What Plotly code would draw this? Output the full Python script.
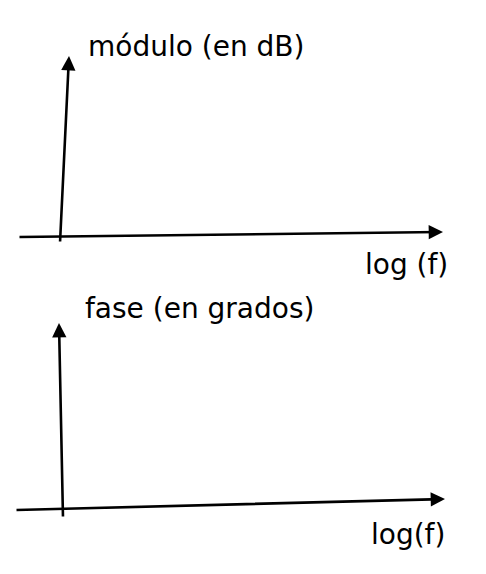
import plotly.graph_objects as go

# Plantilla de diagrama de Bode: dos ejes vacíos (módulo y fase) frente a log(f)
titulos_y = ["módulo (en dB)", "fase (en grados)"]
titulos_x = ["log (f)", "log(f)"]

# Extremos de cada eje, en décadas (x) y unidades arbitrarias (y): (cola, punta)
eje_vertical = [((-0.025, -0.175), (0.2, 4.5)), ((0.05, -0.2), (-0.05, 4.675))]
eje_horizontal = [((-1.075, -0.025), (9.55, 0.1)), ((-1.15, 0.0), (9.6, 0.275))]
pos_titulo_y = [(0.62, 4.75), (0.55, 5.05)]
pos_titulo_x = [(7.55, -0.72), (7.7, -0.62)]

rango_x = [-1.525, 10.625]
rangos_y = [[-1.275, 5.9], [-1.6, 5.575]]
dominios_y = [[0.5, 1.0], [0.0, 0.5]]

fig = go.Figure()
fuente = dict(family="DejaVu Sans", size=28, color="black")

for i in range(2):
    xa = "x" if i == 0 else "x2"
    ya = "y" if i == 0 else "y2"
    # traza invisible para anclar cada panel
    fig.add_trace(go.Scatter(x=[0], y=[0], mode="markers", marker=dict(opacity=0),
                             xaxis=xa, yaxis=ya, showlegend=False, hoverinfo="skip"))
    for (cola, punta) in (eje_vertical[i], eje_horizontal[i]):
        fig.add_annotation(x=punta[0], y=punta[1], ax=cola[0], ay=cola[1],
                           xref=xa, yref=ya, axref=xa, ayref=ya, text="",
                           showarrow=True, arrowhead=2, arrowsize=1.1,
                           arrowwidth=2.6, arrowcolor="black")
    fig.add_annotation(x=pos_titulo_y[i][0], y=pos_titulo_y[i][1], xref=xa, yref=ya,
                       text=titulos_y[i], showarrow=False, xanchor="left",
                       yanchor="middle", font=fuente)
    fig.add_annotation(x=pos_titulo_x[i][0], y=pos_titulo_x[i][1], xref=xa, yref=ya,
                       text=titulos_x[i], showarrow=False, xanchor="left",
                       yanchor="middle", font=fuente)

ejes_ocultos = dict(visible=False, showgrid=False, zeroline=False, fixedrange=True)
fig.update_layout(
    width=486, height=574,
    margin=dict(l=0, r=0, t=0, b=0),
    paper_bgcolor="white", plot_bgcolor="white",
    xaxis=dict(range=rango_x, domain=[0, 1], anchor="y", **ejes_ocultos),
    yaxis=dict(range=rangos_y[0], domain=dominios_y[0], anchor="x", **ejes_ocultos),
    xaxis2=dict(range=rango_x, domain=[0, 1], anchor="y2", **ejes_ocultos),
    yaxis2=dict(range=rangos_y[1], domain=dominios_y[1], anchor="x2", **ejes_ocultos),
    showlegend=False,
)

fig.write_html("out.html")
